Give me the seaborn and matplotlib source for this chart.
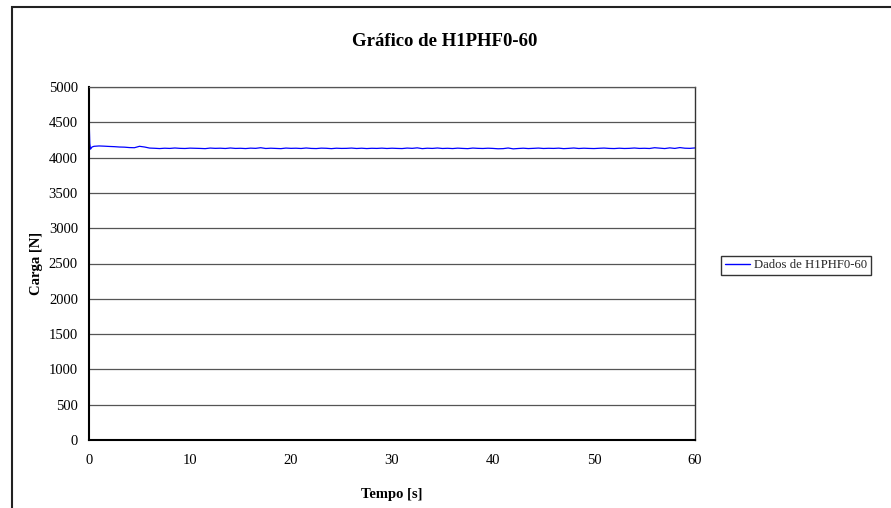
import matplotlib
matplotlib.use("Agg")
import matplotlib.pyplot as plt
from matplotlib.patches import Rectangle
import seaborn as sns
import pandas as pd

# Load test record: time [s] and load [N]
tempo = [0.0, 0.02, 0.08, 0.15, 0.3] + [round(0.5 * k, 1) for k in range(1, 121)]
carga = [
    0, 4490, 4200, 4120, 4150,
    4160, 4165, 4162, 4158, 4155, 4150, 4148, 4142, 4140, 4160,
    4150, 4135, 4132, 4128, 4133, 4130, 4136, 4131, 4129, 4134,
    4132, 4130, 4127, 4135, 4131, 4133, 4129, 4136, 4130, 4132,
    4128, 4134, 4131, 4140, 4129, 4133, 4130, 4127, 4135, 4131,
    4133, 4129, 4136, 4130, 4128, 4134, 4132, 4127, 4133, 4130,
    4131, 4135, 4129, 4133, 4128, 4132, 4130, 4134, 4129, 4133,
    4130, 4128, 4135, 4131, 4138, 4127, 4133, 4130, 4136, 4129,
    4132, 4128, 4134, 4130, 4127, 4135, 4131, 4129, 4133, 4130,
    4125, 4127, 4136, 4124, 4129, 4133, 4128, 4131, 4135, 4129,
    4132, 4130, 4134, 4127, 4131, 4136, 4129, 4133, 4130, 4128,
    4132, 4135, 4130, 4128, 4133, 4129, 4131, 4136, 4130, 4132,
    4129, 4140, 4134, 4128, 4138, 4130, 4142, 4133, 4131, 4137,
]
serie = "Dados de H1PHF0-60"
titulo = "Gráfico de H1PHF0-60"
x_ticks = [0, 10, 20, 30, 40, 50, 60]
y_ticks = [0, 500, 1000, 1500, 2000, 2500, 3000, 3500, 4000, 4500, 5000]

df = pd.DataFrame({"Tempo": tempo, "Carga": carga, "Serie": serie})

sns.set_theme(style="white")
plt.rcParams["font.family"] = ["Liberation Serif", "DejaVu Serif"]

fig = plt.figure(figsize=(8.91, 5.08), dpi=100)
ax = fig.add_axes([89 / 891, 1 - 440 / 508, (695 - 89) / 891, (440 - 87) / 508])

sns.lineplot(data=df, x="Tempo", y="Carga", hue="Serie", palette=["#0000FF"],
             linewidth=0.9, ax=ax, legend=False, sort=False)

ax.set_xlim(0, 60)
ax.set_ylim(0, 5000)
ax.set_xticks(x_ticks)
ax.set_yticks(y_ticks)
ax.tick_params(axis="both", direction="out", length=5, width=1, color="black",
               labelsize=10.5, labelcolor="black")
ax.tick_params(axis="x", pad=5)
ax.tick_params(axis="y", pad=3)
ax.yaxis.grid(True, color="#555555", linewidth=0.9)
ax.xaxis.grid(False)
ax.set_axisbelow(True)
for side in ["left", "bottom"]:
    ax.spines[side].set_color("black")
    ax.spines[side].set_linewidth(1.5)
ax.spines["right"].set_color("#333333")
ax.spines["right"].set_linewidth(1.0)
ax.spines["top"].set_color("#555555")
ax.spines["top"].set_linewidth(0.9)

ax.set_xlabel("Tempo [s]", fontsize=10.5, fontweight="bold", color="black", labelpad=15.5)
ax.set_ylabel("Carga [N]", fontsize=10.5, fontweight="bold", color="black", labelpad=4)
fig.text(445 / 891, 1 - 41 / 508, titulo, ha="center", va="center",
         fontsize=13.5, fontweight="bold", color="black")

# legend entry drawn from the plotted line
handles = [plt.Line2D([], [], color="#0000FF", linewidth=1.0)]
leg = fig.legend(handles, [serie], loc="center",
                 bbox_to_anchor=(796 / 891, 1 - 265.5 / 508),
                 bbox_transform=fig.transFigure, fontsize=9.2, frameon=True,
                 fancybox=False, edgecolor="black", handlelength=2.0,
                 handletextpad=0.3, borderpad=0.3, borderaxespad=0)
leg.get_frame().set_linewidth(1.0)

# chart area outline
fig.patches.append(Rectangle((12 / 891, -0.2), 1.2, 1.2 - 7 / 508,
                             transform=fig.transFigure, fill=False,
                             edgecolor="#222222", linewidth=1.5))

fig.savefig("out.png", dpi=100)
